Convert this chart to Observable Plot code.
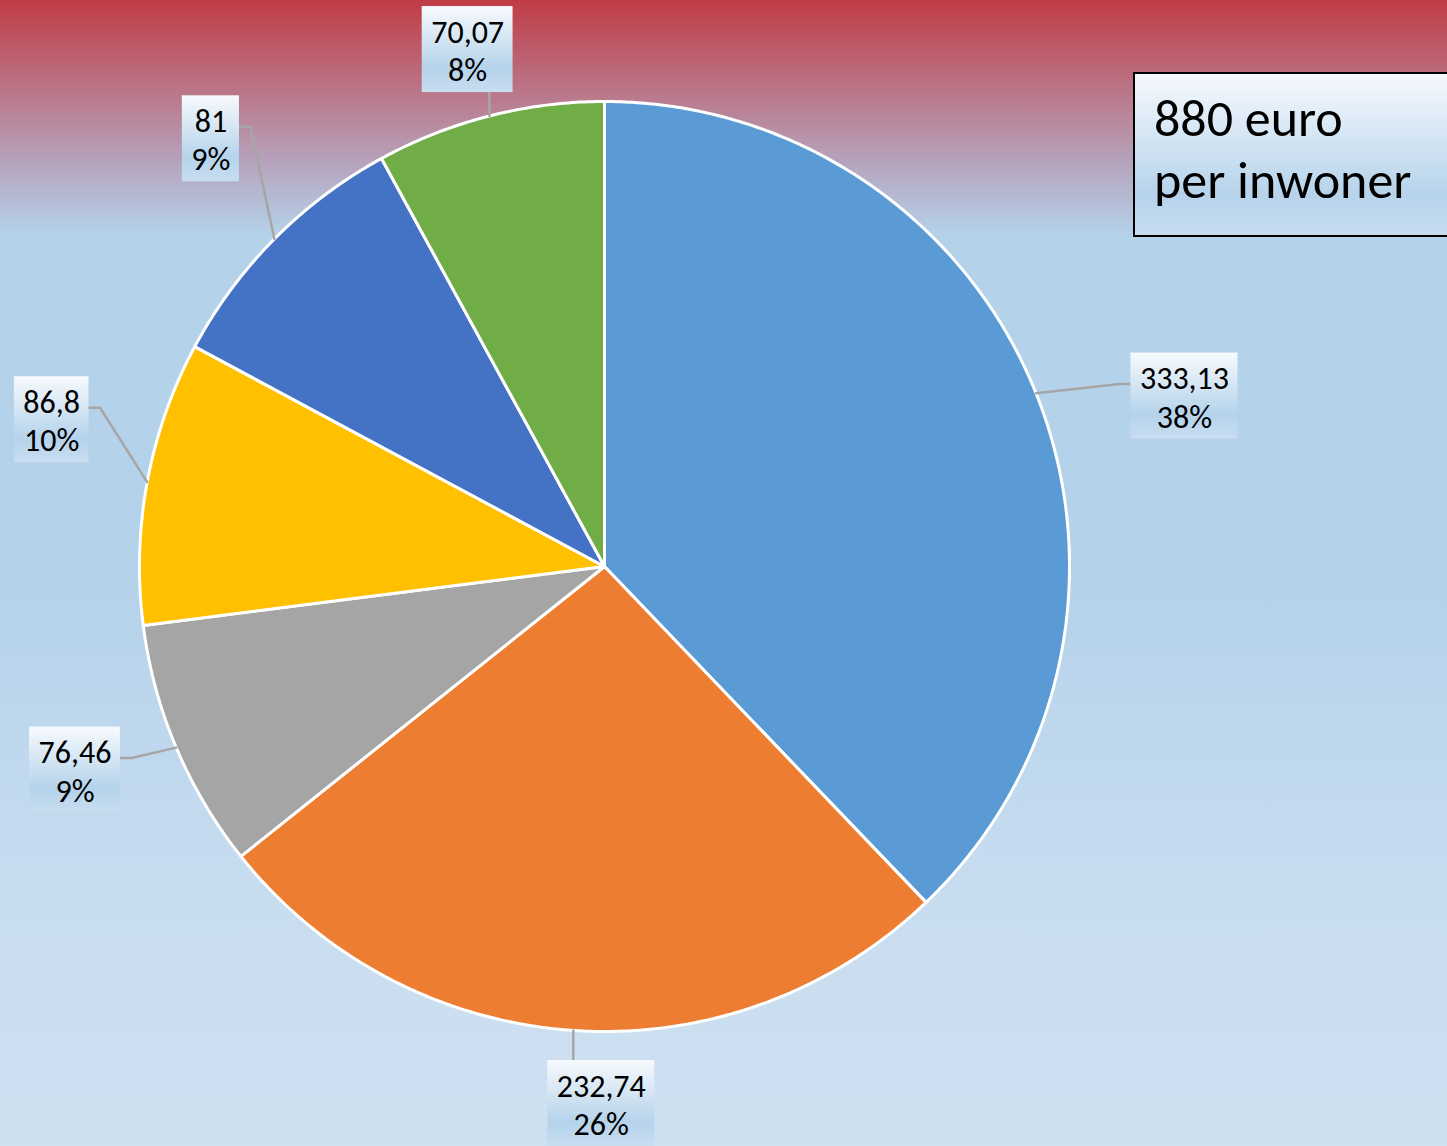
<!DOCTYPE html>
<html>
<head>
<meta charset="utf-8">
<script src="https://cdn.jsdelivr.net/npm/d3@7"></script>
<script src="https://cdn.jsdelivr.net/npm/@observablehq/plot@0.6"></script>
<style>
  html, body { margin: 0; padding: 0; }
  body { width: 1447px; height: 1146px; overflow: hidden; }
  #wrap {
    position: relative; width: 1447px; height: 1146px;
    background: linear-gradient(to bottom, #c03c46 0%, #bb6f80 7%, #b6a2bb 14%, #b4d2ea 20.5%, #b4d2ea 50%, #c9ddf0 80%, #cfe1f1 100%);
    font-family: Calibri, Carlito, "Open Sans", sans-serif;
  }
  #title {
    position: absolute; left: 1133px; top: 72px; width: 330px; height: 165px;
    border: 2px solid #000; box-sizing: border-box;
    background: linear-gradient(to bottom, #f6f9fd 0%, #b6d3eb 75%, #c7dcf0 100%);
    font-size: 52px; line-height: 62px; padding: 13px 0 0 19px; color: #000;
  }
</style>
</head>
<body>
<div id="wrap"><div id="chart"></div><div id="title">880 euro<br>per inwoner</div></div>
<script>
// ---- data ----
const categories = ["A", "B", "C", "D", "E", "F"];
const values = [333.13, 232.74, 76.46, 86.8, 81, 70.07];
const colors = ["#5b9bd5", "#ed7d31", "#a5a5a5", "#ffc000", "#4472c4", "#70ad47"];
// ---- layout (label distance in radii, angular shift in degrees) ----
const labelRadius = [1.30, 1.16, 1.22, 1.23, 1.25, 1.15];
const labelShift = [5.5, -3.5, 1.9, 4.4, 2.6, -0.5];

const W = 1447, H = 1146;
const R = 465;            // pie radius in px
const cx = 604, cy = 566; // pie centre in px
const fontSize = 32;
const fontFamily = 'Calibri, Carlito, "Open Sans", sans-serif';

const total = d3.sum(values);
const pie = d3.pie().sort(null).value(d => d)(values);

// slice polygons in radius units (clockwise from top)
const slicePts = [];
pie.forEach((p, i) => {
  const n = Math.max(8, Math.ceil((p.endAngle - p.startAngle) / (Math.PI / 360)));
  slicePts.push({name: categories[i], x: 0, y: 0});
  for (let k = 0; k <= n; k++) {
    const a = p.startAngle + (p.endAngle - p.startAngle) * k / n;
    slicePts.push({name: categories[i], x: Math.sin(a), y: Math.cos(a)});
  }
  slicePts.push({name: categories[i], x: 0, y: 0});
});

// label boxes
const ctx = document.createElement("canvas").getContext("2d");
ctx.font = `${fontSize}px ${fontFamily}`;
const fmt = v => String(v).replace(".", ",");
const boxH = 86 / R;
const labels = pie.map((p, i) => {
  const mid = (p.startAngle + p.endAngle) / 2;
  const la = mid + labelShift[i] * Math.PI / 180;
  const t1 = fmt(values[i]);
  const t2 = Math.round(values[i] / total * 100) + "%";
  const wpx = Math.max(ctx.measureText(t1).width, ctx.measureText(t2).width) + 18;
  const w = wpx / R;
  let x = Math.sin(la) * labelRadius[i];
  let y = Math.cos(la) * labelRadius[i];
  // keep the box within the frame
  const xmin = -cx / R, xmax = (W - cx) / R, ymax = cy / R, ymin = -(H - cy) / R;
  x = Math.min(Math.max(x, xmin + w / 2 + 4 / R), xmax - w / 2);
  y = Math.min(Math.max(y, ymin + boxH / 2), ymax - boxH / 2 - 6 / R);
  const box = {x1: x - w / 2, x2: x + w / 2, y1: y - boxH / 2, y2: y + boxH / 2};
  // leader line from the slice edge to the box
  const ex = Math.sin(mid), ey = Math.cos(mid);
  let pts;
  if (ex > box.x1 && ex < box.x2) {
    const by = ey > box.y2 ? box.y2 : box.y1;
    pts = [[ex, ey], [ex, by]];
  } else {
    const side = ex < box.x1 ? box.x1 : box.x2;
    const stub = (ex < box.x1 ? -11 : 11) / R;
    const ay = box.y2 - 0.36 * boxH;
    pts = [[ex, ey], [side + stub, ay], [side, ay]];
  }
  return {name: categories[i], x, y, text: t1 + "\n" + t2, ...box, leader: pts};
});
const leaderPts = labels.flatMap(l => l.leader.map(([x, y]) => ({name: l.name, x, y})));

const defs = () => {
  const g = d3.create("svg:defs");
  const lg = g.append("linearGradient").attr("id", "lblGrad").attr("x1", 0).attr("y1", 0).attr("x2", 0).attr("y2", 1);
  lg.append("stop").attr("offset", "0%").attr("stop-color", "#f7fafd");
  lg.append("stop").attr("offset", "72%").attr("stop-color", "#b5d3eb");
  lg.append("stop").attr("offset", "100%").attr("stop-color", "#c8ddf0");
  return g.node();
};

const chart = Plot.plot({
  width: W, height: H,
  margin: 0,
  x: {domain: [-cx / R, (W - cx) / R], range: [0, W], axis: null},
  y: {domain: [-(H - cy) / R, cy / R], range: [H, 0], axis: null},
  color: {domain: categories, range: colors},
  style: {background: "transparent", fontFamily},
  marks: [
    defs,
    Plot.line(slicePts, {x: "x", y: "y", z: "name", fill: "name", stroke: "white", strokeWidth: 3, strokeLinejoin: "round", curve: "linear"}),
    Plot.line(leaderPts, {x: "x", y: "y", z: "name", stroke: "#a6a6a6", strokeWidth: 2.5}),
    Plot.rect(labels, {x1: "x1", x2: "x2", y1: "y1", y2: "y2", fill: "url(#lblGrad)"}),
    Plot.text(labels, {x: "x", y: "y", text: "text", fontSize, lineHeight: 1.2, fill: "#000", textAnchor: "middle", lineAnchor: "middle"})
  ]
});
document.getElementById("chart").appendChild(chart);
</script>
</body>
</html>
